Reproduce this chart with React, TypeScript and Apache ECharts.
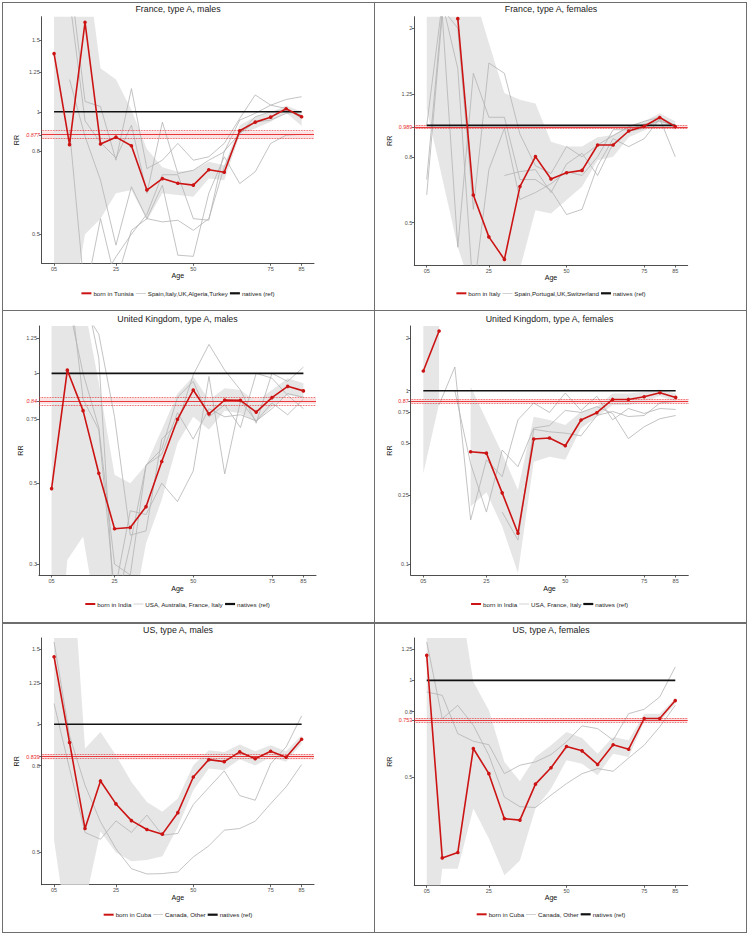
import React, { useEffect, useRef } from 'react';
import * as echarts from 'echarts';

const FONT = "'Liberation Sans', Arial, Helvetica, sans-serif";
const AGES = [5, 10, 15, 20, 25, 30, 35, 40, 45, 50, 55, 60, 65, 70, 75, 80, 85];
const X_TICKS = [5, 25, 50, 75, 85];
const NATIVES_NAME = 'natives (ref)';
const NATIVES_VALUE = 1;

// ---------- Panel 1: France, type A, males ----------
const P1_TITLE = 'France, type A, males';
const P1_RED_NAME = 'born in Tunisia';
const P1_GREY_NAME = 'Spain,Italy,UK,Algeria,Turkey';
const P1_RED = [1.39, 0.83, 1.66, 0.833, 0.866, 0.825, 0.642, 0.685, 0.667, 0.66, 0.72, 0.71, 0.898, 0.943, 0.97, 1.017, 0.972];
const P1_LOW = [0.15, 0.3, 0.5, 0.546, 0.63, 0.642, 0.541, 0.63, 0.624, 0.618, 0.685, 0.679, 0.876, 0.91, 0.945, 0.994, 0.922];
const P1_HIGH = [3, 3, 2.5, 1.28, 1.2, 1.01, 0.81, 0.73, 0.712, 0.718, 0.753, 0.739, 0.927, 0.972, 0.994, 1.036, 1.0];
const P1_GREY_1 = [null, 2.2, 1.06, 1.03, 0.76, 1.14, 0.725, 0.76, 0.836, 0.76, 0.775, 0.836, 0.963, 1.1, 1.038, 1.072, 1.089];
const P1_GREY_2 = [null, 1.9, 0.95, 0.84, 0.77, 0.927, 0.63, 0.943, 0.705, 0.718, 0.76, 0.797, 0.954, 0.991, 1.038, 1.019, 0.963];
const P1_GREY_3 = [null, 1.2, 0.87, 0.679, 0.47, 0.654, 0.546, 0.536, 0.541, 0.511, 0.546, 0.732, 0.884, 0.972, 1.0, 1.009, 0.981];
const P1_GREY_4 = [null, 0.9, 0.35, 0.546, 0.38, 0.511, 0.546, 0.66, 0.444, 0.441, 0.63, 0.775, 0.666, 0.712, 0.836, 0.876, 0.88];
const P1_GREY_5 = [null, null, 0.3, 0.38, 0.44, 0.5, 0.56, 0.7, 0.7, 0.546, 0.541, 0.8, 0.884, 0.943, 0.954, 0.991, 1.0];
const P1_Y_TICKS = [0.5, 0.8, 1, 1.25, 1.5];
const P1_REF = [0.877, 0.86, 0.895];

// ---------- Panel 2: France, type A, females ----------
const P2_TITLE = 'France, type A, females';
const P2_RED_NAME = 'born in Italy';
const P2_GREY_NAME = 'Spain,Portugal,UK,Switzerland';
const P2_RED = [null, null, 2.14, 0.609, 0.452, 0.385, 0.647, 0.801, 0.683, 0.714, 0.726, 0.87, 0.87, 0.961, 0.994, 1.058, 0.992];
const P2_LOW = [1.12, 0.687, 0.42, 0.3, 0.25, 0.25, 0.36, 0.547, 0.534, 0.588, 0.647, 0.78, 0.8, 0.92, 0.964, 1.015, 0.968];
const P2_HIGH = [3, 3, 3, 2.6, 1.8, 1.26, 1.2, 1.17, 0.89, 0.86, 0.86, 0.92, 0.935, 1.0, 1.03, 1.09, 1.03];
const P2_GREY_1 = [0.68, 2.3, 2.0, 0.55, 1.56, 1.45, 0.94, 0.75, 0.71, 0.86, 0.8, 0.87, 0.93, 0.99, 1.03, 1.06, 1.0];
const P2_GREY_2 = [0.61, 2.2, 0.42, 1.45, 1.06, 1.06, 0.68, 0.68, 0.63, 0.53, 0.55, 0.75, 0.91, 0.86, 0.91, 1.05, 0.8];
const P2_GREY_3 = [1.0, 2.4, 1.5, 0.3, 0.73, 0.98, 0.59, 0.62, 0.66, 0.72, 0.7, 0.8, 0.97, 0.97, 1.01, 1.03, 1.0];
const P2_GREY_4 = [null, null, null, null, null, 0.7, 0.72, 0.73, 0.62, 0.76, 0.82, 0.7, 0.88, 0.96, 0.98, 1.04, 0.99];
const P2_Y_TICKS = [0.5, 0.8, 1.25, 2];
const P2_REF = [0.989, 0.976, 1.002];

// ---------- Panel 3: United Kingdom, type A, males ----------
const P3_TITLE = 'United Kingdom, type A, males';
const P3_RED_NAME = 'born in India';
const P3_GREY_NAME = 'USA, Australia, France, Italy';
const P3_RED = [0.483, 1.02, 0.79, 0.532, 0.375, 0.378, 0.431, 0.573, 0.748, 0.9, 0.774, 0.845, 0.843, 0.783, 0.858, 0.921, 0.895];
const P3_LOW = [0.1, 0.308, 0.357, 0.2, 0.2, 0.2, 0.342, 0.45, 0.643, 0.76, 0.7, 0.79, 0.777, 0.737, 0.81, 0.872, 0.854];
const P3_HIGH = [3, 3, 1.6, 0.94, 0.527, 0.5, 0.561, 0.7, 0.88, 0.98, 0.845, 0.91, 0.9, 0.836, 0.9, 0.969, 0.939];
const P3_GREY_1 = [null, 3, 1.5, 1.28, 0.76, 0.36, 0.37, 0.66, 0.73, 0.99, 1.2, 1.02, 0.9, 0.73, 1.0, 0.95, 1.04];
const P3_GREY_2 = [null, 1.6, 1.0, 0.71, 0.3, 0.28, 0.56, 0.62, 0.86, 0.95, 0.76, 0.82, 0.71, 1.0, 0.97, 0.87, 0.8];
const P3_GREY_3 = [null, 2.0, 0.85, 0.7, 0.25, 0.42, 0.41, 0.5, 0.445, 0.54, 0.98, 0.53, 0.84, 0.74, 0.83, 0.77, 0.85];
const P3_GREY_4 = [null, null, 1.8, 1.1, 0.22, 0.34, 0.56, 0.6, 0.78, 0.66, 0.8, 0.76, 0.77, 0.74, 0.8, 0.88, 0.86];
const P3_Y_TICKS = [0.3, 0.5, 0.75, 1, 1.25];
const P3_REF = [0.84, 0.824, 0.856];

// ---------- Panel 4: United Kingdom, type A, females ----------
const P4_TITLE = 'United Kingdom, type A, females';
const P4_RED_NAME = 'born in India';
const P4_GREY_NAME = 'USA, France, Italy';
const P4_RED = [1.3, 2.21, null, 0.445, 0.437, 0.258, 0.151, 0.527, 0.534, 0.482, 0.678, 0.747, 0.891, 0.891, 0.924, 0.974, 0.915];
const P4_LOW = [0.334, 0.845, null, 0.215, 0.26, 0.165, 0.089, 0.39, 0.417, 0.4, 0.607, 0.708, 0.827, 0.827, 0.864, 0.932, 0.864];
const P4_HIGH = [3, 3, null, 1.055, 0.678, 0.435, 0.268, 0.708, 0.678, 0.634, 0.757, 0.809, 0.965, 0.965, 0.987, 1.018, 0.965];
const P4_GREY_1 = [null, 0.83, 1.37, 0.18, 0.4, 0.32, 0.68, 0.85, 0.75, 0.97, 0.77, 0.93, 0.68, 0.79, 0.74, 0.79, 0.78];
const P4_GREY_2 = [null, null, 1.0, 0.38, 0.2, 0.455, 0.365, 0.61, 0.63, 0.77, 0.75, 0.81, 0.74, 0.53, 0.62, 0.69, 0.72];
const P4_GREY_3 = [null, null, null, null, null, 0.2, 0.138, 0.6, 0.58, 0.57, 0.55, 0.72, 0.76, 0.71, 0.72, 0.85, 0.87];
const P4_Y_TICKS = [0.1, 0.25, 0.5, 0.75, 1, 2];
const P4_REF = [0.87, 0.851, 0.889];

// ---------- Panel 5: US, type A, males ----------
const P5_TITLE = 'US, type A, males';
const P5_RED_NAME = 'born in Cuba';
const P5_GREY_NAME = 'Canada, Other';
const P5_RED = [1.44, 0.906, 0.569, 0.736, 0.65, 0.594, 0.566, 0.552, 0.62, 0.752, 0.826, 0.817, 0.861, 0.83, 0.864, 0.837, 0.922];
const P5_LOW = [0.534, 0.3, 0.38, 0.56, 0.5, 0.477, 0.48, 0.49, 0.574, 0.7, 0.787, 0.78, 0.828, 0.8, 0.838, 0.816, 0.9];
const P5_HIGH = [3, 3, 0.877, 0.959, 0.846, 0.732, 0.657, 0.623, 0.669, 0.801, 0.869, 0.861, 0.896, 0.864, 0.893, 0.864, 0.942];
const P5_GREY_1 = [1.118, 0.787, 0.557, 0.537, 0.593, 0.557, 0.612, 0.549, 0.554, 0.648, 0.71, 0.777, 0.68, 0.663, 0.808, 0.885, 1.046];
const P5_GREY_2 = [1.56, 0.94, 0.719, 0.59, 0.51, 0.458, 0.445, 0.446, 0.45, 0.488, 0.518, 0.564, 0.569, 0.592, 0.651, 0.713, 0.804];
const P5_Y_TICKS = [0.5, 0.8, 1, 1.25, 1.5];
const P5_REF = [0.839, 0.827, 0.851];

// ---------- Panel 6: US, type A, females ----------
const P6_TITLE = 'US, type A, females';
const P6_RED_NAME = 'born in Cuba';
const P6_GREY_NAME = 'Canada, Other';
const P6_RED = [1.195, 0.281, 0.292, 0.614, 0.513, 0.372, 0.368, 0.476, 0.535, 0.623, 0.604, 0.548, 0.631, 0.611, 0.761, 0.761, 0.865];
const P6_LOW = [0.1, 0.26, 0.26, 0.4, 0.323, 0.248, 0.276, 0.4, 0.461, 0.565, 0.551, 0.507, 0.592, 0.578, 0.743, 0.743, 0.846];
const P6_HIGH = [3, 3, 2, 0.99, 0.807, 0.558, 0.486, 0.578, 0.629, 0.691, 0.662, 0.592, 0.667, 0.652, 0.788, 0.788, 0.877];
const P6_GREY_1 = [0.92, 0.898, 0.683, 0.647, 0.631, 0.513, 0.545, 0.558, 0.588, 0.644, 0.722, 0.708, 0.652, 0.788, 0.813, 0.888, 1.1];
const P6_GREY_2 = [1.315, 0.76, 0.836, 0.725, 0.585, 0.434, 0.405, 0.403, 0.44, 0.478, 0.513, 0.532, 0.522, 0.574, 0.629, 0.717, 0.836];
const P6_Y_TICKS = [0.5, 0.8, 1, 1.25];
const P6_REF = [0.753, 0.742, 0.764];

// ---------- styles ----------
const RED = '#cc1414';
const REF_RED = '#e8262a';
const GREY_LINE = '#b4b4b4';
const BAND = '#e6e6e6';
const AXIS = '#3a3a3a';
const TICK_TEXT = '#4d4d4d';

type PanelCfg = {
  title: string; redName: string; greyName: string;
  red: (number | null)[]; low: (number | null)[]; high: (number | null)[];
  greys: (number | null)[][]; yTicks: number[]; ref: number[]; refItalic: boolean;
  ymin: number; ymax: number;
  cellLeft: number; top: number; height: number; L: number; plotW: number;
  gridTop: number; gridBottom: number; titleY: number; legendY: number; ageGap: number; rrGap: number;
};

const PANELS: PanelCfg[] = [
  { title: P1_TITLE, redName: P1_RED_NAME, greyName: P1_GREY_NAME, red: P1_RED, low: P1_LOW, high: P1_HIGH,
    greys: [P1_GREY_1, P1_GREY_2, P1_GREY_3, P1_GREY_4, P1_GREY_5], yTicks: P1_Y_TICKS, ref: P1_REF, refItalic: true,
    ymin: 0.424, ymax: 1.713, cellLeft: 0, top: 0, height: 309, L: 41.7, plotW: 272.3, gridTop: 16.7, gridBottom: 45.7,
    titleY: 10, legendY: 294.3, ageGap: 9.5, rrGap: 21.5 },
  { title: P2_TITLE, redName: P2_RED_NAME, greyName: P2_GREY_NAME, red: P2_RED, low: P2_LOW, high: P2_HIGH,
    greys: [P2_GREY_1, P2_GREY_2, P2_GREY_3, P2_GREY_4], yTicks: P2_Y_TICKS, ref: P2_REF, refItalic: false,
    ymin: 0.37, ymax: 2.17, cellLeft: 374, top: 0, height: 309, L: 40.3, plotW: 273.4, gridTop: 16.7, gridBottom: 44,
    titleY: 10, legendY: 294.3, ageGap: 9.5, rrGap: 21 },
  { title: P3_TITLE, redName: P3_RED_NAME, greyName: P3_GREY_NAME, red: P3_RED, low: P3_LOW, high: P3_HIGH,
    greys: [P3_GREY_1, P3_GREY_2, P3_GREY_3, P3_GREY_4], yTicks: P3_Y_TICKS, ref: P3_REF, refItalic: true,
    ymin: 0.28, ymax: 1.348, cellLeft: 0, top: 309, height: 313, L: 39, plotW: 277, gridTop: 17, gridBottom: 47,
    titleY: 11, legendY: 296, ageGap: 10.3, rrGap: 15 },
  { title: P4_TITLE, redName: P4_RED_NAME, greyName: P4_GREY_NAME, red: P4_RED, low: P4_LOW, high: P4_HIGH,
    greys: [P4_GREY_1, P4_GREY_2, P4_GREY_3], yTicks: P4_Y_TICKS, ref: P4_REF, refItalic: false,
    ymin: 0.0868, ymax: 2.36, cellLeft: 374, top: 309, height: 313, L: 36.7, plotW: 277.6, gridTop: 17, gridBottom: 47,
    titleY: 11, legendY: 296, ageGap: 10.3, rrGap: 17.5 },
  { title: P5_TITLE, redName: P5_RED_NAME, greyName: P5_GREY_NAME, red: P5_RED, low: P5_LOW, high: P5_HIGH,
    greys: [P5_GREY_1, P5_GREY_2], yTicks: P5_Y_TICKS, ref: P5_REF, refItalic: false,
    ymin: 0.42, ymax: 1.594, cellLeft: 0, top: 622, height: 314, L: 41.7, plotW: 272.3, gridTop: 16, gridBottom: 51.3,
    titleY: 9, legendY: 293.7, ageGap: 9.3, rrGap: 21.5 },
  { title: P6_TITLE, redName: P6_RED_NAME, greyName: P6_GREY_NAME, red: P6_RED, low: P6_LOW, high: P6_HIGH,
    greys: [P6_GREY_1, P6_GREY_2], yTicks: P6_Y_TICKS, ref: P6_REF, refItalic: false,
    ymin: 0.231, ymax: 1.353, cellLeft: 374, top: 622, height: 314, L: 40.3, plotW: 273.4, gridTop: 16, gridBottom: 50.7,
    titleY: 9, legendY: 293.3, ageGap: 9.4, rrGap: 21 },
];

const pairs = (vals: (number | null)[]) => AGES.map((a, i) => [a, vals[i] == null ? null : vals[i]]);

function buildOption(p: PanelCfg, width: number) {
  const gridRight = width - p.L - p.plotW;
  const [refV, refLo, refHi] = p.ref;
  const isRef = (v: number) => Math.abs(v - refV) < 1e-9;

  const bandSeries = {
    type: 'custom', name: 'band', silent: true, clip: true, z: 1,
    data: AGES.map((a, i) => [a, p.low[i], p.high[i]]),
    renderItem: (params: any, api: any) => {
      if (params.dataIndex !== 0) return null;
      const runs: number[][] = [];
      let cur: number[] = [];
      AGES.forEach((_a, i) => {
        if (p.low[i] == null || p.high[i] == null) { if (cur.length) runs.push(cur); cur = []; }
        else cur.push(i);
      });
      if (cur.length) runs.push(cur);
      const children = runs.filter((r) => r.length > 1).map((r) => {
        const top = r.map((i) => api.coord([AGES[i], p.high[i]]));
        const bot = r.slice().reverse().map((i) => api.coord([AGES[i], p.low[i]]));
        return { type: 'polygon', shape: { points: top.concat(bot) }, style: { fill: BAND, stroke: null } };
      });
      return { type: 'group', children };
    },
  };

  const greySeries = p.greys.map((g) => ({
    type: 'line', name: p.greyName, data: pairs(g), symbol: 'none', silent: true, z: 3,
    lineStyle: { color: GREY_LINE, width: 0.8 }, itemStyle: { color: GREY_LINE }, connectNulls: false,
  }));

  const nativesSeries = {
    type: 'line', name: NATIVES_NAME, data: AGES.map((a) => [a, NATIVES_VALUE]), symbol: 'none', silent: true, z: 8,
    lineStyle: { color: '#111', width: 1.7 }, itemStyle: { color: '#111' },
    markLine: {
      silent: true, symbol: ['none', 'none'], label: { show: false },
      data: [
        { yAxis: refV, lineStyle: { color: REF_RED, width: 0.9, type: 'solid' } },
        { yAxis: refLo, lineStyle: { color: REF_RED, width: 0.8, type: 'dotted' } },
        { yAxis: refHi, lineStyle: { color: REF_RED, width: 0.8, type: 'dotted' } },
      ],
    },
    markArea: {
      silent: true, itemStyle: { color: 'rgba(232,38,42,0.13)' },
      data: [[{ yAxis: refLo }, { yAxis: refHi }]],
    },
  };

  const redSeries = {
    type: 'line', name: p.redName, data: pairs(p.red), symbol: 'circle', symbolSize: 3.6, showSymbol: true, z: 10,
    silent: true, connectNulls: false,
    lineStyle: { color: RED, width: 1.6 }, itemStyle: { color: RED },
  };

  return {
    animation: false,
    textStyle: { fontFamily: FONT },
    title: {
      text: p.title, left: 'center', top: p.titleY - 5.3, padding: 0,
      textStyle: { fontSize: 8.8, fontWeight: 'normal', color: '#1a1a1a', fontFamily: FONT },
    },
    legend: {
      data: [
        { name: p.redName, icon: 'path://M0,0H10V2H0Z' },
        { name: p.greyName, icon: 'path://M0,0H10V0.6H0Z' },
        { name: NATIVES_NAME, icon: 'path://M0,0H10V2.2H0Z' },
      ],
      left: 'center', top: p.legendY - 4, padding: 0, itemWidth: 10, itemHeight: 4, itemGap: 2,
      symbolKeepAspect: true, selectedMode: false,
      textStyle: { fontSize: 6.2, color: '#222', fontFamily: FONT, padding: [0, 0, 0, -3] },
    },
    grid: { left: p.L, right: gridRight, top: p.gridTop, bottom: p.gridBottom, containLabel: false },
    xAxis: {
      type: 'value', min: 1, max: 89,
      name: 'Age', nameLocation: 'middle', nameGap: p.ageGap, nameMoveOverlap: false,
      nameTextStyle: { fontSize: 7.1, color: '#111', fontFamily: FONT },
      axisLine: { onZero: false, lineStyle: { color: AXIS, width: 0.9 } },
      axisTick: { customValues: X_TICKS, length: 2.5, lineStyle: { color: AXIS, width: 0.8 } },
      axisLabel: {
        customValues: X_TICKS, fontSize: 5.5, color: TICK_TEXT, margin: 2.5,
        formatter: (v: number) => (v < 10 ? '0' + v : String(v)),
      },
      splitLine: { show: false },
    },
    yAxis: {
      type: 'log', logBase: 10, min: p.ymin, max: p.ymax,
      name: 'RR', nameLocation: 'middle', nameGap: p.rrGap, nameRotate: 90, nameMoveOverlap: false,
      nameTextStyle: { fontSize: 7.1, color: '#111', fontFamily: FONT },
      axisLine: { onZero: false, lineStyle: { color: AXIS, width: 0.9 } },
      axisTick: { customValues: [...p.yTicks, refV], length: 2.5, lineStyle: { color: AXIS, width: 0.8 } },
      axisLabel: {
        customValues: [...p.yTicks, refV], fontSize: 5.5, color: TICK_TEXT, margin: 2,
        formatter: (v: number) => (isRef(v) ? `{r|${refV}}` : String(v)),
        rich: { r: { color: REF_RED, fontSize: 5.4, fontStyle: p.refItalic ? 'italic' : 'normal', fontFamily: FONT } },
      },
      splitLine: { show: false },
      minorTick: { show: false },
    },
    series: [bandSeries, ...greySeries, nativesSeries, redSeries],
  };
}

function Panel({ cfg }: { cfg: PanelCfg }) {
  const ref = useRef<HTMLDivElement>(null);
  const width = Math.round(2 * cfg.L + cfg.plotW);
  useEffect(() => {
    if (!ref.current) return;
    const chart = echarts.init(ref.current, undefined, { renderer: 'svg' });
    chart.setOption(buildOption(cfg, width) as any);
    return () => chart.dispose();
  }, [cfg, width]);
  return (
    <div
      ref={ref}
      style={{ position: 'absolute', left: cfg.cellLeft, top: cfg.top, width, height: cfg.height }}
    />
  );
}

const BORDER = '#6e6e6e';

export default function App() {
  const line = (l: number, t: number, w: number, h: number) => (
    <div style={{ position: 'absolute', left: l, top: t, width: w, height: h, background: BORDER }} />
  );
  return (
    <div style={{ position: 'absolute', left: 0, top: 0, width: 750, height: 936, background: '#fff', overflow: 'hidden' }}>
      {PANELS.map((p, i) => (
        <Panel key={i} cfg={p} />
      ))}
      {line(2, 2, 745, 1.4)}
      {line(2, 932, 745, 1.4)}
      {line(2, 2, 1.4, 931.4)}
      {line(745.6, 2, 1.4, 931.4)}
      {line(373.6, 2, 1.4, 931.4)}
      {line(2, 309.6, 745, 1.4)}
      {line(2, 622.4, 745, 1.4)}
    </div>
  );
}
